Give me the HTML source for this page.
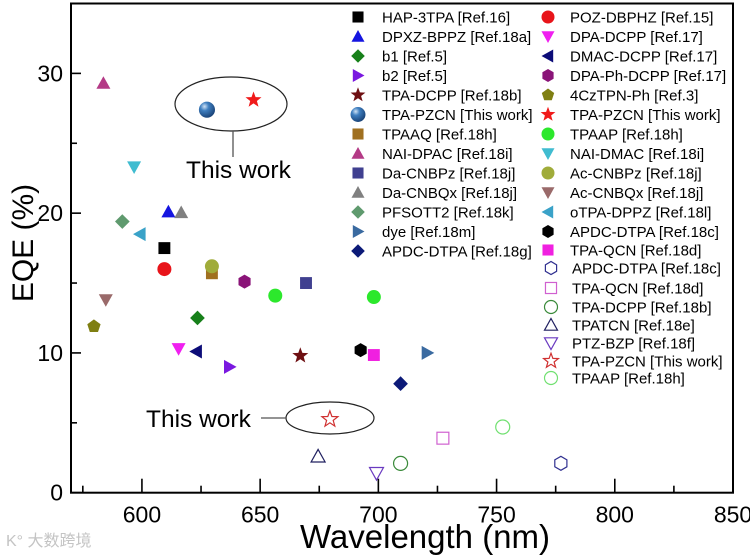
<!DOCTYPE html>
<html><head><meta charset="utf-8"><style>
html,body{margin:0;padding:0;background:#fff;width:750px;height:555px;overflow:hidden}
svg{display:block;font-family:"Liberation Sans",Arial,sans-serif}
</style></head><body>
<svg id="chart" width="750" height="555" viewBox="0 0 750 555">
<defs>
<radialGradient id="sph" cx="0.35" cy="0.3" r="0.75">
<stop offset="0" stop-color="#cfe2f5"/><stop offset="0.35" stop-color="#3f7fc0"/><stop offset="1" stop-color="#173f73"/>
</radialGradient>
</defs>
<g id="axes"></g>
<g id="marks"></g>
<g id="legend"></g>
<g>
<ellipse cx="231" cy="104" rx="56" ry="27" fill="none" stroke="#222" stroke-width="1.2"/>
<line x1="233" y1="131" x2="233" y2="157" stroke="#555" stroke-width="1.3"/>
<text x="186" y="178" font-size="24.5" fill="#000">This work</text>
</g>
<g>
<ellipse cx="330" cy="418" rx="44" ry="16" fill="none" stroke="#222" stroke-width="1.2"/>
<line x1="261" y1="418" x2="286" y2="418" stroke="#555" stroke-width="1.3"/>
<text x="146" y="427" font-size="24.5" fill="#000">This work</text>
</g>
<text x="6" y="546" font-size="16" fill="#c4c4c4" font-family="'Liberation Sans','Noto Sans CJK SC',sans-serif">K° 大数跨境</text>
</svg>
<script>
const xTicks = [600, 650, 700, 750, 800, 850];
const yTicks = [0, 10, 20, 30];
const names = ["HAP-3TPA [Ref.16]","POZ-DBPHZ [Ref.15]","DPXZ-BPPZ [Ref.18a]","DPA-DCPP [Ref.17]","b1 [Ref.5]","DMAC-DCPP [Ref.17]","b2 [Ref.5]","DPA-Ph-DCPP [Ref.17]","TPA-DCPP [Ref.18b]","4CzTPN-Ph [Ref.3]","TPA-PZCN [This work]","TPA-PZCN [This work]","TPAAQ [Ref.18h]","TPAAP [Ref.18h]","NAI-DPAC [Ref.18i]","NAI-DMAC [Ref.18i]","Da-CNBPz [Ref.18j]","Ac-CNBPz [Ref.18j]","Da-CNBQx [Ref.18j]","Ac-CNBQx [Ref.18j]","PFSOTT2 [Ref.18k]","oTPA-DPPZ [Ref.18l]","dye [Ref.18m]","APDC-DTPA [Ref.18c]","APDC-DTPA [Ref.18g]","TPA-QCN [Ref.18d]","APDC-DTPA [Ref.18c]","TPA-QCN [Ref.18d]","TPA-DCPP [Ref.18b]","TPATCN [Ref.18e]","PTZ-BZP [Ref.18f]","TPA-PZCN [This work]","TPAAP [Ref.18h]"];
const shapes = ["square","circle","up","down","diamond","left","right","hex","star","pent","sphere","star","square","circle","up","down","square","circle","up","down","diamond","left","right","hex","diamond","square","ohex","osquare","ocircle","oup","odown","ostar","ocircle"];
const colors = ["#000","#e8141a","#1515e0","#f020f0","#17801a","#0c0c78","#7a18e0","#8a1478","#6e0f12","#7f7f12","#2a64a8","#f01a1a","#a07020","#2ce82c","#b43a86","#40bcd0","#404090","#a0ac3a","#808080","#9a6a6a","#5f9a6e","#3aa2c8","#3a6aa0","#000","#0c1a78","#f020e0","#303090","#d060d0","#3a8a3a","#202060","#6a3ac0","#d03030","#70e070"];
const wl = [[609.5],[609.5],[611.2],[615.5],[623.5],[623],[637.1],[643.4],[667],[579.7],[627.5],[647.2],[629.6],[656.4,698.1],[583.7],[596.7],[669.4],[629.6],[616.6],[584.7],[591.7],[599.2],[720.7],[692.5],[709.4],[698.1],[777.2],[727.3],[709.4],[674.5],[699.2],[679.5],[752.6]];
const eqe = [[17.5],[16.0],[20.1],[10.3],[12.5],[10.1],[9.0],[15.1],[9.8],[11.9],[27.4],[28.1],[15.7],[14.1,14.0],[29.3],[23.3],[15.0],[16.2],[20.05],[13.8],[19.4],[18.5],[10.0],[10.2],[7.8],[9.85],[2.1],[3.9],[2.1],[2.6],[1.4],[5.25],[4.7]];

const X0=71,X1=733,Y0=492.7,Y1=3.5;
const xS = v => X0 + (v-570)/(850-570)*(X1-X0);
const yS = v => Y0 - v/35*(Y0-Y1);
const NS="http://www.w3.org/2000/svg";
function mk(tag, attrs, parent){const e=document.createElementNS(NS,tag);for(const k in attrs)e.setAttribute(k,attrs[k]);parent.appendChild(e);return e;}
function pts(arr){return arr.map(p=>p[0].toFixed(1)+","+p[1].toFixed(1)).join(" ");}
function starPts(cx,cy,R,r){const a=[];for(let i=0;i<10;i++){const ang=-Math.PI/2+i*Math.PI/5;const rr=i%2?r:R;a.push([cx+rr*Math.cos(ang),cy+rr*Math.sin(ang)]);}return pts(a);}
function polyN(cx,cy,R,n,off){const a=[];for(let i=0;i<n;i++){const ang=off+i*2*Math.PI/n;a.push([cx+R*Math.cos(ang),cy+R*Math.sin(ang)]);}return pts(a);}
function marker(g, shape, cx, cy, c, s){
  const open = shape[0]==="o" && shape!=="ocircle" ? true : shape==="ocircle";
  const base = open ? shape.slice(1) : shape;
  const fill = open ? "none" : c, stroke = open ? c : "none";
  const st = {fill:fill, stroke:stroke, "stroke-width":1.2};
  let e;
  const h=s/2;
  if(base==="square") e=mk("rect",Object.assign({x:cx-h*0.85,y:cy-h*0.85,width:s*0.85,height:s*0.85},st),g);
  else if(base==="circle") e=mk("circle",Object.assign({cx:cx,cy:cy,r:h},st),g);
  else if(base==="sphere") e=mk("circle",{cx:cx,cy:cy,r:h*1.15,fill:"url(#sph)"},g);
  else if(base==="up") e=mk("polygon",Object.assign({points:pts([[cx,cy-h],[cx+h,cy+h*0.8],[cx-h,cy+h*0.8]])},st),g);
  else if(base==="down") e=mk("polygon",Object.assign({points:pts([[cx-h,cy-h*0.8],[cx+h,cy-h*0.8],[cx,cy+h]])},st),g);
  else if(base==="left") e=mk("polygon",Object.assign({points:pts([[cx-h,cy],[cx+h*0.8,cy-h],[cx+h*0.8,cy+h]])},st),g);
  else if(base==="right") e=mk("polygon",Object.assign({points:pts([[cx+h,cy],[cx-h*0.8,cy-h],[cx-h*0.8,cy+h]])},st),g);
  else if(base==="diamond") e=mk("polygon",Object.assign({points:pts([[cx,cy-h*1.05],[cx+h*1.05,cy],[cx,cy+h*1.05],[cx-h*1.05,cy]])},st),g);
  else if(base==="hex") e=mk("polygon",Object.assign({points:polyN(cx,cy,h,6,Math.PI/6)},st),g);
  else if(base==="pent") e=mk("polygon",Object.assign({points:polyN(cx,cy,h,5,-Math.PI/2)},st),g);
  else if(base==="star") e=mk("polygon",Object.assign({points:starPts(cx,cy,h*1.2,h*0.5)},st),g);
  return e;
}
// axes
const ax=document.getElementById("axes");
mk("rect",{x:X0,y:Y1,width:X1-X0,height:Y0-Y1,fill:"none",stroke:"#000","stroke-width":2},ax);
xTicks.forEach(v=>{const x=xS(v);
  mk("line",{x1:x,y1:Y0,x2:x,y2:Y0-14,stroke:"#000","stroke-width":1.6},ax);
  const t=mk("text",{x:x,y:Y0+30,"font-size":23,"text-anchor":"middle",fill:"#000"},ax);t.textContent=v;
  
  
});
[575,625,675,725,775,825].forEach(v=>{const x=xS(v);mk("line",{x1:x,y1:Y0,x2:x,y2:Y0-7,stroke:"#000","stroke-width":1.6},ax);});
yTicks.forEach(v=>{const y=yS(v);
  mk("line",{x1:X0,y1:y,x2:X0+10,y2:y,stroke:"#000","stroke-width":1.6},ax);
  const t=mk("text",{x:X0-8,y:y+8,"font-size":23,"text-anchor":"end",fill:"#000"},ax);t.textContent=v;
  
  
});
[5,15,25].forEach(v=>{const y=yS(v);mk("line",{x1:X0,y1:y,x2:X0+6,y2:y,stroke:"#000","stroke-width":1.6},ax);});
const xt=mk("text",{x:425,y:548,"font-size":33,"text-anchor":"middle",fill:"#000"},ax);xt.textContent="Wavelength (nm)";


const yt=mk("text",{x:0,y:0,"font-size":30,"text-anchor":"middle",fill:"#000",transform:"translate(33,243) rotate(-90)"},ax);yt.textContent="EQE (%)";


// marks
const mg=document.getElementById("marks");
names.forEach((n,i)=>{
  wl[i].forEach((w,j)=>{
    const e=marker(mg,shapes[i],xS(w),yS(eqe[i][j]),colors[i],14);
    
    
  });
});
// legend
const lg=document.getElementById("legend");
const leftRows=[17,36.5,56,75.5,95,114.5,134,153.5,173,192.5,212,231.5,251];
const rightRows=[17,36.5,56,75.5,95,114.5,134,153.5,173,192.5,212,231.5,250,268,288,307,325,343,361,378];
names.forEach((n,i)=>{
  let mx,tx,y;
  if(i<26){const col=i%2,row=Math.floor(i/2); if(col===0){mx=358;tx=382;y=leftRows[row];}else{mx=548;tx=570;y=rightRows[row];}}
  else{mx=551;tx=572;y=rightRows[13+(i-26)];}
  const m=marker(lg,shapes[i],mx,y,colors[i],13);
  
  
  const t=mk("text",{x:tx,y:y+5.5,"font-size":15,fill:"#000"},lg);t.textContent=n;
  
  
});
</script>
</body></html>
